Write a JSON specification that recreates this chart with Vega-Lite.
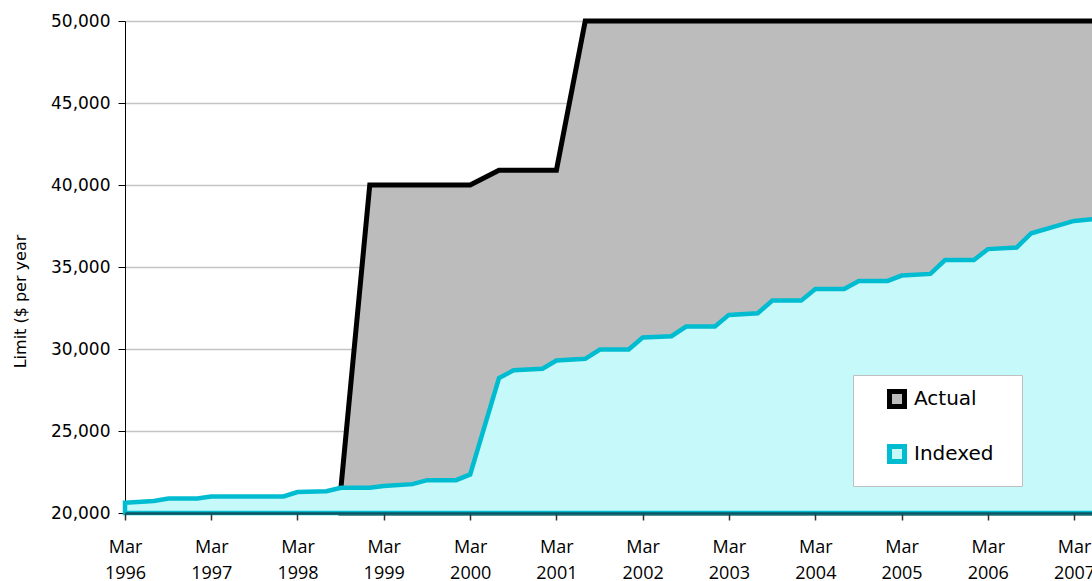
{
  "$schema": "https://vega.github.io/schema/vega-lite/v6.json",
  "usermeta": {"embedOptions": {"actions": false}},
  "width": 967,
  "height": 492,
  "autosize": {"type": "none"},
  "padding": {"left": 125, "top": 21, "right": 0, "bottom": 68},
  "background": "white",
  "config": {"view": {"stroke": null}},
  "data": {"values": [
    {"date": "1996/03/01", "series": "Indexed", "value": 20630},
    {"date": "1996/07/01", "series": "Indexed", "value": 20730},
    {"date": "1996/09/01", "series": "Indexed", "value": 20880},
    {"date": "1997/01/01", "series": "Indexed", "value": 20880},
    {"date": "1997/03/01", "series": "Indexed", "value": 21010},
    {"date": "1997/07/01", "series": "Indexed", "value": 21010},
    {"date": "1997/09/01", "series": "Indexed", "value": 21010},
    {"date": "1998/01/01", "series": "Indexed", "value": 21010},
    {"date": "1998/03/01", "series": "Indexed", "value": 21280},
    {"date": "1998/07/01", "series": "Indexed", "value": 21330},
    {"date": "1998/09/01", "series": "Indexed", "value": 21540},
    {"date": "1999/01/01", "series": "Indexed", "value": 21540},
    {"date": "1999/03/01", "series": "Indexed", "value": 21640},
    {"date": "1999/07/01", "series": "Indexed", "value": 21760},
    {"date": "1999/09/01", "series": "Indexed", "value": 22000},
    {"date": "2000/01/01", "series": "Indexed", "value": 22000},
    {"date": "2000/03/01", "series": "Indexed", "value": 22350},
    {"date": "2000/07/01", "series": "Indexed", "value": 28230},
    {"date": "2000/09/01", "series": "Indexed", "value": 28700},
    {"date": "2001/01/01", "series": "Indexed", "value": 28800},
    {"date": "2001/03/01", "series": "Indexed", "value": 29300},
    {"date": "2001/07/01", "series": "Indexed", "value": 29400},
    {"date": "2001/09/01", "series": "Indexed", "value": 29970},
    {"date": "2002/01/01", "series": "Indexed", "value": 29970},
    {"date": "2002/03/01", "series": "Indexed", "value": 30700},
    {"date": "2002/07/01", "series": "Indexed", "value": 30780},
    {"date": "2002/09/01", "series": "Indexed", "value": 31370},
    {"date": "2003/01/01", "series": "Indexed", "value": 31370},
    {"date": "2003/03/01", "series": "Indexed", "value": 32080},
    {"date": "2003/07/01", "series": "Indexed", "value": 32180},
    {"date": "2003/09/01", "series": "Indexed", "value": 32950},
    {"date": "2004/01/01", "series": "Indexed", "value": 32950},
    {"date": "2004/03/01", "series": "Indexed", "value": 33660},
    {"date": "2004/07/01", "series": "Indexed", "value": 33660},
    {"date": "2004/09/01", "series": "Indexed", "value": 34150},
    {"date": "2005/01/01", "series": "Indexed", "value": 34150},
    {"date": "2005/03/01", "series": "Indexed", "value": 34480},
    {"date": "2005/07/01", "series": "Indexed", "value": 34580},
    {"date": "2005/09/01", "series": "Indexed", "value": 35420},
    {"date": "2006/01/01", "series": "Indexed", "value": 35420},
    {"date": "2006/03/01", "series": "Indexed", "value": 36090},
    {"date": "2006/07/01", "series": "Indexed", "value": 36190},
    {"date": "2006/09/01", "series": "Indexed", "value": 37060},
    {"date": "2007/03/01", "series": "Indexed", "value": 37810},
    {"date": "2007/07/01", "series": "Indexed", "value": 37980},
    {"date": "1998/09/01", "series": "Actual", "value": 21540},
    {"date": "1999/01/01", "series": "Actual", "value": 40000},
    {"date": "1999/03/01", "series": "Actual", "value": 40000},
    {"date": "1999/07/01", "series": "Actual", "value": 40000},
    {"date": "1999/09/01", "series": "Actual", "value": 40000},
    {"date": "2000/01/01", "series": "Actual", "value": 40000},
    {"date": "2000/03/01", "series": "Actual", "value": 40000},
    {"date": "2000/07/01", "series": "Actual", "value": 40900},
    {"date": "2000/09/01", "series": "Actual", "value": 40900},
    {"date": "2001/01/01", "series": "Actual", "value": 40900},
    {"date": "2001/03/01", "series": "Actual", "value": 40900},
    {"date": "2001/07/01", "series": "Actual", "value": 50000},
    {"date": "2002/03/01", "series": "Actual", "value": 50000},
    {"date": "2003/03/01", "series": "Actual", "value": 50000},
    {"date": "2004/03/01", "series": "Actual", "value": 50000},
    {"date": "2005/03/01", "series": "Actual", "value": 50000},
    {"date": "2006/03/01", "series": "Actual", "value": 50000},
    {"date": "2007/03/01", "series": "Actual", "value": 50000},
    {"date": "2007/07/01", "series": "Actual", "value": 50000}
  ]},
  "encoding": {
    "x": {
      "field": "date", "type": "temporal",
      "scale": {"domain": [{"year": 1996, "month": 3, "date": 1}, {"year": 2007, "month": 5, "date": 16}]},
      "axis": {
        "title": null,
        "values": [
          {"year": 1996, "month": 3, "date": 1}, {"year": 1997, "month": 3, "date": 1},
          {"year": 1998, "month": 3, "date": 1}, {"year": 1999, "month": 3, "date": 1},
          {"year": 2000, "month": 3, "date": 1}, {"year": 2001, "month": 3, "date": 1},
          {"year": 2002, "month": 3, "date": 1}, {"year": 2003, "month": 3, "date": 1},
          {"year": 2004, "month": 3, "date": 1}, {"year": 2005, "month": 3, "date": 1},
          {"year": 2006, "month": 3, "date": 1}, {"year": 2007, "month": 3, "date": 1}
        ],
        "labelExpr": "['Mar', timeFormat(datum.value, '%Y')]",
        "labelFont": "Open Sans", "labelFontSize": 18, "labelColor": "black",
        "labelLineHeight": 26, "labelBaseline": "top", "labelPadding": 18,
        "labelOverlap": false, "labelFlush": false,
        "tickSize": 7, "tickColor": "#333333", "tickWidth": 1.5,
        "domainColor": "#0b5560", "domainWidth": 2.5,
        "grid": false, "zindex": 1
      }
    },
    "y": {
      "field": "value", "type": "quantitative", "stack": null,
      "scale": {"domain": [20000, 50000], "nice": false, "zero": false},
      "axis": {
        "values": [20000, 25000, 30000, 35000, 40000, 45000, 50000],
        "format": ",.0f",
        "title": "Limit ($ per year",
        "titleFont": "DejaVu Sans", "titleFontSize": 16, "titleFontWeight": "normal", "titleColor": "black",
        "titleAngle": -90, "titleX": -105, "titleY": 280, "titleAlign": "center", "titleBaseline": "middle",
        "labelFont": "DejaVu Sans", "labelFontSize": 17, "labelColor": "black", "labelPadding": 8,
        "tickSize": 7, "tickColor": "black", "domainColor": "black",
        "grid": true, "gridColor": "#c4c4c4", "gridWidth": 1.5, "zindex": 0
      }
    },
    "y2": {"datum": 20000}
  },
  "layer": [
    {
      "transform": [{"filter": "datum.series === 'Actual'"}],
      "mark": {"type": "area", "strokeWidth": 5, "strokeJoin": "miter"},
      "encoding": {
        "fill": {"field": "series", "type": "nominal",
          "scale": {"domain": ["Actual", "Indexed"], "range": ["#bcbcbc", "#c6f9f9"]},
          "legend": {
            "orient": "none", "legendX": 728, "legendY": 354, "direction": "vertical",
            "title": "\u00a0", "titleOrient": "right", "titleFontSize": 10, "titlePadding": 15,
            "symbolType": "square", "symbolSize": 225, "symbolStrokeWidth": 5, "symbolOffset": 20,
            "labelFont": "DejaVu Sans", "labelFontSize": 20, "labelColor": "black", "labelOffset": 7,
            "rowPadding": 19, "padding": 14, "fillColor": "white", "strokeColor": "#c0c0c0"
          }},
        "stroke": {"field": "series", "type": "nominal",
          "scale": {"domain": ["Actual", "Indexed"], "range": ["#000000", "#00bcd0"]},
          "legend": {
            "orient": "none", "legendX": 728, "legendY": 354, "direction": "vertical",
            "title": "\u00a0", "titleOrient": "right", "titleFontSize": 10, "titlePadding": 15,
            "symbolType": "square", "symbolSize": 225, "symbolStrokeWidth": 5, "symbolOffset": 20,
            "labelFont": "DejaVu Sans", "labelFontSize": 20, "labelColor": "black", "labelOffset": 7,
            "rowPadding": 19, "padding": 14, "fillColor": "white", "strokeColor": "#c0c0c0"
          }}
      }
    },
    {
      "transform": [{"filter": "datum.series === 'Indexed'"}],
      "mark": {"type": "area", "strokeWidth": 4.5, "strokeJoin": "miter"},
      "encoding": {
        "fill": {"field": "series", "type": "nominal"},
        "stroke": {"field": "series", "type": "nominal"}
      }
    }
  ]
}
